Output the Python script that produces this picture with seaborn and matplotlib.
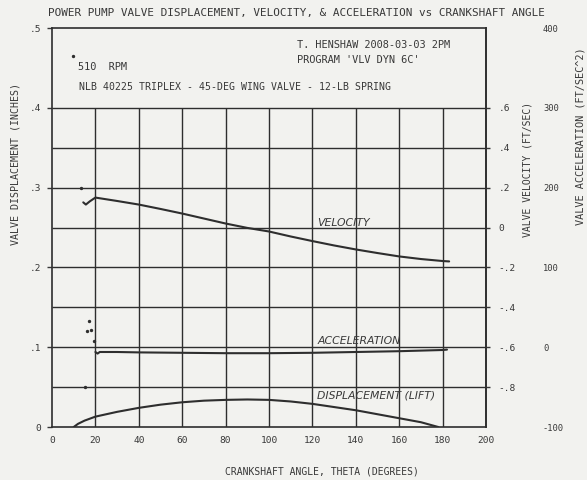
import matplotlib
matplotlib.use("Agg")
import matplotlib.pyplot as plt
import seaborn as sns
import pandas as pd

# ---------------- data ----------------
title = "POWER PUMP VALVE DISPLACEMENT, VELOCITY, & ACCELERATION vs CRANKSHAFT ANGLE"
x_label = "CRANKSHAFT ANGLE, THETA (DEGREES)"
disp_label = "VALVE DISPLACEMENT (INCHES)"
vel_label = "VALVE VELOCITY (FT/SEC)"
acc_label = "VALVE ACCELERATION (FT/SEC^2)"

x_ticks = [0, 20, 40, 60, 80, 100, 120, 140, 160, 180, 200]
x_tick_labels = ["0", "20", "40", "60", "80", "100", "120", "140", "160", "180", "200"]
disp_ticks = [0, 0.1, 0.2, 0.3, 0.4, 0.5]
disp_tick_labels = ["0", ".1", ".2", ".3", ".4", ".5"]
vel_ticks = [0.6, 0.4, 0.2, 0, -0.2, -0.4, -0.6, -0.8]
vel_tick_labels = [".6", ".4", ".2", "0", "-.2", "-.4", "-.6", "-.8"]
acc_ticks = [400, 300, 200, 100, 0, -100]
acc_tick_labels = ["400", "300", "200", "100", "0", "-100"]

grid_x = [20, 40, 60, 80, 100, 120, 140, 160, 180]
grid_y = [0.05, 0.10, 0.15, 0.20, 0.25, 0.30, 0.35, 0.40]

# displacement (lift), inches
theta_disp = [10, 11, 12, 15, 20, 30, 40, 50, 60, 70, 80, 90, 100, 110, 120, 130, 140, 150, 160, 170, 178]
displacement = [0.0, 0.002, 0.004, 0.008, 0.013, 0.019, 0.024, 0.028, 0.031, 0.033, 0.034, 0.0345,
                0.034, 0.032, 0.029, 0.025, 0.021, 0.016, 0.011, 0.006, 0.0]

# velocity, ft/sec
theta_vel = [14.4, 15.6, 17.4, 20, 30, 40, 50, 60, 70, 80, 90, 100, 110, 120, 130, 140, 150, 160, 170, 180, 183]
velocity = [0.126, 0.115, 0.131, 0.150, 0.133, 0.115, 0.093, 0.070, 0.045, 0.020, -0.002, -0.020,
            -0.045, -0.068, -0.090, -0.110, -0.128, -0.145, -0.158, -0.168, -0.170]

# acceleration, ft/sec^2
theta_acc = [20, 21, 22, 30, 40, 60, 80, 100, 120, 140, 160, 180, 182]
acceleration = [-6.0, -8.0, -6.0, -6.0, -6.5, -7.0, -7.5, -7.5, -7.0, -6.0, -5.0, -3.5, -3.0]

# stray plotter dots (displacement scale)
stray_theta = [9.6, 13.2, 15.1, 15.9, 17.1, 17.9, 19.3]
stray_disp = [0.465, 0.300, 0.050, 0.120, 0.133, 0.122, 0.108]

notes = ["T. HENSHAW 2008-03-03 2PM", "PROGRAM 'VLV DYN 6C'", "510  RPM",
         "NLB 40225 TRIPLEX - 45-DEG WING VALVE - 12-LB SPRING"]
curve_names = ["VELOCITY", "ACCELERATION", "DISPLACEMENT (LIFT)"]

# ---------------- style ----------------
sns.set_theme(style="white")
plt.rcParams["font.family"] = ["DejaVu Sans Mono", "DejaVu Sans"]
paper = "#f2f2ef"
ink = "#2e2e2e"
txt = "#383838"
plt.rcParams.update({"text.color": txt, "axes.labelcolor": txt,
                     "xtick.color": txt, "ytick.color": txt,
                     "axes.edgecolor": ink})

fig = plt.figure(figsize=(5.87, 4.8), dpi=100, facecolor=paper)
ax = fig.add_axes([0.0886, 0.1104, 0.7394, 0.83125])
ax.set_facecolor(paper)
ax.set_xlim(0, 200)
ax.set_ylim(0, 0.5)

# grid (only below .4)
ax.hlines(grid_y, 0, 200, color=ink, lw=1.0, zorder=1)
ax.vlines(grid_x, 0, 0.4, color=ink, lw=1.0, zorder=1)

df_d = pd.DataFrame({"theta": theta_disp, "disp": displacement})
sns.lineplot(data=df_d, x="theta", y="disp", ax=ax, color=ink, lw=1.5, zorder=3)
ax.scatter(stray_theta, stray_disp, s=2, color=ink, zorder=3)

ax.set_xticks(x_ticks, x_tick_labels)
ax.set_yticks(disp_ticks, disp_tick_labels)
ax.tick_params(axis="x", direction="inout", length=5, width=1, pad=4, labelsize=6.8)
ax.tick_params(axis="y", direction="out", length=3.6, width=1, pad=4, labelsize=6.8)
ax.set_xlabel(x_label, fontsize=7.0)
ax.xaxis.set_label_coords(0.622, -0.098)
ax.set_ylabel(disp_label, fontsize=7.2)
ax.yaxis.set_label_coords(-0.072, 0.66)
for s in ax.spines.values():
    s.set_linewidth(1.2)
    s.set_color(ink)

# velocity axis
ax2 = ax.twinx()
ax2.set_ylim(-1, 1)
df_v = pd.DataFrame({"theta": theta_vel, "vel": velocity})
sns.lineplot(data=df_v, x="theta", y="vel", ax=ax2, color=ink, lw=1.5)
ax2.set_yticks(vel_ticks, vel_tick_labels)
ax2.tick_params(axis="y", direction="out", length=3, width=1, pad=6, labelsize=6.8)
ax2.set_ylabel(vel_label, fontsize=7.0, rotation=90)
ax2.yaxis.set_label_coords(1.083, 0.645)
for k in ["top", "left", "bottom"]:
    ax2.spines[k].set_visible(False)
ax2.spines["right"].set_linewidth(1.2)

# acceleration axis
ax3 = ax.twinx()
ax3.set_ylim(-100, 400)
df_a = pd.DataFrame({"theta": theta_acc, "acc": acceleration})
sns.lineplot(data=df_a, x="theta", y="acc", ax=ax3, color=ink, lw=1.5)
ax3.spines["right"].set_position(("outward", 40))
for k in ["top", "left", "bottom", "right"]:
    ax3.spines[k].set_visible(False)
ax3.set_yticks(acc_ticks, acc_tick_labels)
ax3.tick_params(axis="y", length=0, pad=1, labelsize=6.3)
ax3.set_ylabel(acc_label, fontsize=7.4, rotation=90)
ax3.yaxis.set_label_coords(1.205, 0.73)

for a in (ax, ax2, ax3):
    a.set_xlim(0, 200)
ax2.set_xlabel("")
ax3.set_xlabel("")

# title and notes
fig.text(0.505, 0.972, title, ha="center", va="center", fontsize=7.95)
ax.text(113, 0.479, notes[0], fontsize=7.4, va="center", ha="left")
ax.text(113, 0.460, notes[1], fontsize=7.4, va="center", ha="left")
ax.text(12, 0.451, notes[2], fontsize=7.4, va="center", ha="left")
ax.text(12.5, 0.426, notes[3], fontsize=7.1, va="center", ha="left")

# hand-lettered curve names
hand = dict(fontstyle="italic", family=["DejaVu Sans"], fontsize=7.8, va="center", ha="left")
ax.text(122, 0.256, curve_names[0], **hand)
ax.text(122.5, 0.1075, curve_names[1], **hand)
ax.text(122, 0.039, curve_names[2], **hand)

fig.savefig("out.png", dpi=100, facecolor=paper)
